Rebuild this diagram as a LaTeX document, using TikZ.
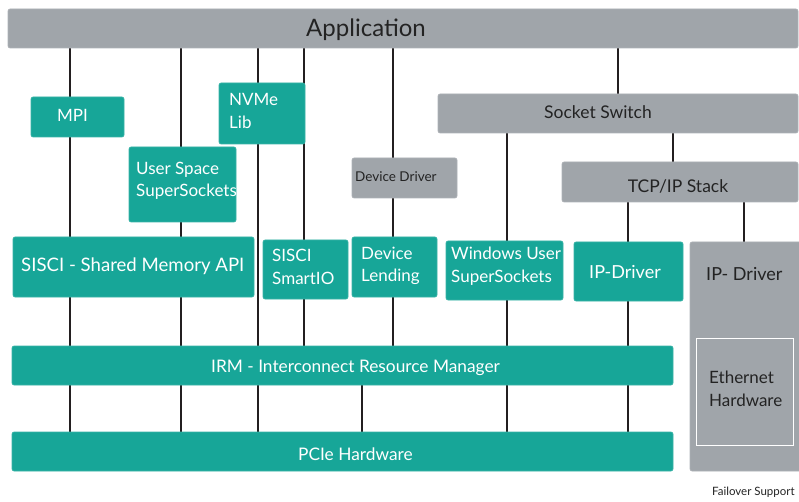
\documentclass[tikz,border=0pt]{standalone}
\usepackage{fontspec}
\setmainfont{Lato}
\usetikzlibrary{fit}
\pgfdeclarelayer{background}
\pgfsetlayers{background,main}
\definecolor{tealc}{RGB}{23,166,152}
\definecolor{grayc}{RGB}{160,165,170}
\definecolor{linec}{RGB}{35,31,32}
\definecolor{txtdark}{RGB}{35,35,35}
\tikzset{
  tbox/.style={fill=tealc, draw=tealc!85!white, line width=0.6pt, rounded corners=2pt, inner sep=0pt},
  gbox/.style={fill=grayc, draw=grayc!85!white, line width=0.6pt, rounded corners=2pt, inner sep=0pt},
  wlbl/.style={text=white, inner sep=0pt, anchor=west, align=left, font=\fontsize{17}{22.5}\selectfont},
  dlbl/.style={text=txtdark, inner sep=0pt, align=left, font=\fontsize{17}{22.5}\selectfont},
  conn/.style={draw=linec, line width=2pt},
}
\begin{document}
\begin{tikzpicture}[x=1pt,y=-1pt]
\useasboundingbox (0,0) rectangle (799,502);
\clip (0,0) rectangle (799,502);
% boxes
\node[gbox, fit={(8,9)(798,48)}] (app) {};
\node[tbox, fit={(31,97)(124,137)}] (mpi) {};
\node[tbox, fit={(219,83)(305,144)}] (nvme) {};
\node[tbox, fit={(129,147)(236,222)}] (uss) {};
\node[gbox, fit={(352,158)(457,198)}] (ddrv) {};
\node[gbox, fit={(438,94)(798,133)}] (sock) {};
\node[gbox, fit={(562,162)(798,202)}] (tcp) {};
\node[tbox, fit={(13,237)(254,297)}] (sisci) {};
\node[tbox, fit={(263,240)(348,299)}] (smartio) {};
\node[tbox, fit={(352,237)(437,297)}] (lend) {};
\node[tbox, fit={(446,241)(563,300)}] (wuss) {};
\node[tbox, fit={(574,242)(683,301)}] (ipd) {};
\node[gbox, fit={(690,242)(806,471)}] (gipd) {};
\node[draw=white, line width=0.8pt, inner sep=0pt, fit={(696,338)(793,445)}] (eth) {};
\node[tbox, fit={(12,346)(673,385)}] (irm) {};
\node[tbox, fit={(12,432)(673,471)}] (pcie) {};
% labels
\node[dlbl, font=\fontsize{24}{28}\selectfont] at (366,30) {Application};
\node[wlbl] at (57,115) {MPI};
\node[wlbl] at (229,111) {NVMe\\Lib};
\node[wlbl] at (136,181) {User Space\\SuperSockets};
\node[dlbl, anchor=west, font=\fontsize{13.5}{16}\selectfont] at (355,177) {Device Driver};
\node[dlbl, font=\fontsize{17.5}{22}\selectfont] at (598,112) {Socket Switch};
\node[dlbl, font=\fontsize{17.5}{22}\selectfont] at (678,186) {TCP/IP Stack};
\node[wlbl, font=\fontsize{18.6}{22}\selectfont] at (21,266) {SISCI - Shared Memory API};
\node[wlbl] at (272,267) {SISCI\\SmartIO};
\node[wlbl] at (361,266) {Device\\Lending};
\node[wlbl] at (451,266) {Windows User\\SuperSockets};
\node[wlbl, font=\fontsize{18}{22}\selectfont] at (589,272) {IP-Driver};
\node[dlbl, anchor=west, font=\fontsize{18}{22}\selectfont] at (706,274) {IP- Driver};
\node[dlbl, anchor=west] at (709,389) {Ethernet\\Hardware};
\node[wlbl, font=\fontsize{17.3}{22}\selectfont] at (211,368) {IRM - Interconnect Resource Manager};
\node[wlbl, font=\fontsize{17.3}{22}\selectfont] at (298,454) {PCIe Hardware};
\node[dlbl, anchor=west, font=\fontsize{11.5}{14}\selectfont] at (712,492) {Failover Support};
% connectors
\begin{pgfonlayer}{background}
\foreach \xx in {70,181,258} {
  \draw[conn] (app.south -| \xx,0) -- (pcie.north -| \xx,0);
}
\foreach \xx in {304,393} {
  \draw[conn] (app.south -| \xx,0) -- (irm.north -| \xx,0);
}
\draw[conn] (irm.south -| 362,0) -- (pcie.north -| 362,0);
\draw[conn] (app.south -| 618,0) -- (sock.north -| 618,0);
\draw[conn] (sock.south -| 507,0) -- (pcie.north -| 507,0);
\draw[conn] (sock.south -| 673,0) -- (tcp.north -| 673,0);
\draw[conn] (tcp.south -| 628,0) -- (pcie.north -| 628,0);
\draw[conn] (tcp.south -| 744,0) -- (gipd.north -| 744,0);
\end{pgfonlayer}
\end{tikzpicture}
\end{document}
